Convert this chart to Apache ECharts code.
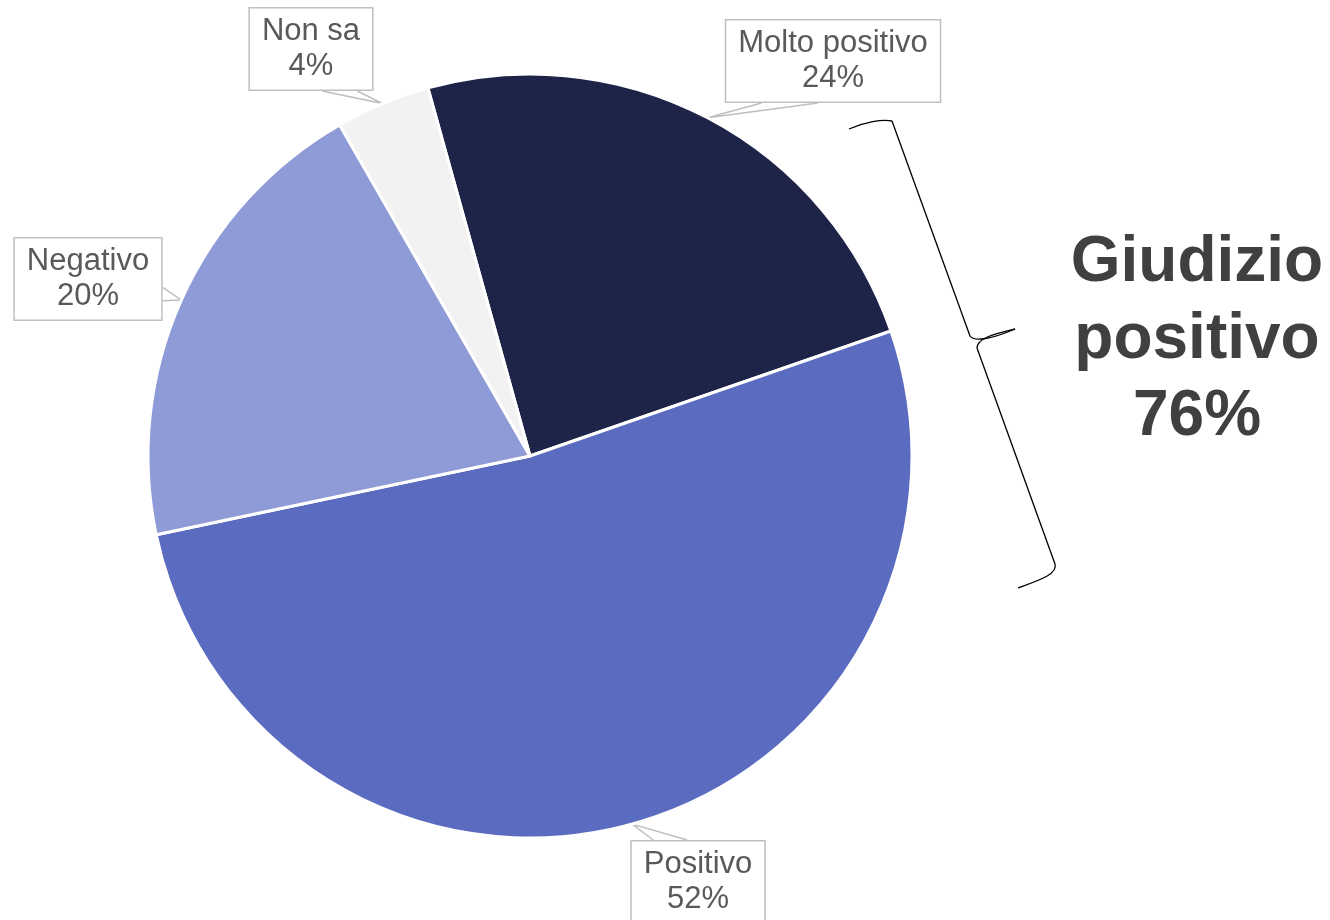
<!DOCTYPE html>
<html>
<head>
<meta charset="utf-8">
<script src="https://cdn.jsdelivr.net/npm/echarts@6/dist/echarts.min.js"></script>
<style>
html,body{margin:0;padding:0;background:#fff;}
#chart{width:1330px;height:920px;}
</style>
</head>
<body>
<div id="chart"></div>
<script>
// Data
const categories = ['Molto positivo', 'Positivo', 'Negativo', 'Non sa'];
const values = [24, 52, 20, 4];
const summaryLines = ['Giudizio', 'positivo', '76%'];

// Styles / layout
const colors = ['#1e2348', '#5b6bbf', '#8f9bd6', '#f2f2f2'];
const labelCenters = [[833, 61], [698, 882], [88, 279], [311, 49]];
// side of the callout box the pointer attaches to, and the pointer base (fractions of width/height)
const labelAttach = [['bottom', 0.17, 0.43], ['top', 0.17, 0.42], ['right', 0.6, 0.76], ['bottom', 0.59, 0.87]];

const chart = echarts.init(document.getElementById('chart'), null, {renderer: 'canvas'});

const bracketColor = '#000';
const option = {
  backgroundColor: '#fff',
  animation: false,
  series: [{
    type: 'pie',
    center: [530, 456],
    radius: 382,
    startAngle: 105.5,
    clockwise: true,
    avoidLabelOverlap: false,
    itemStyle: {borderColor: '#fff', borderWidth: 3},
    data: categories.map((c, i) => ({name: c, value: values[i], itemStyle: {color: colors[i]}})),
    label: {
      show: true,
      position: 'outside',
      formatter: '{b}\n{c}%',
      fontFamily: 'Liberation Sans, Arial, sans-serif',
      fontSize: 31,
      lineHeight: 35,
      color: '#595959',
      backgroundColor: '#fff',
      borderColor: '#bfbfbf',
      borderWidth: 1.5,
      padding: [11, 12, 0, 12],
      align: 'center'
    },
    labelLine: {
      show: true,
      length: 8,
      length2: 8,
      lineStyle: {color: '#bfbfbf', width: 1.5}
    },
    labelLayout: function (params) {
      const i = params.dataIndex;
      const c = labelCenters[i];
      const w = params.labelRect.width, h = params.labelRect.height;
      const left = c[0] - w / 2, top = c[1] - h / 2;
      const a = labelAttach[i];
      const pt = function (f) {
        if (a[0] === 'bottom') return [left + w * f, top + h];
        if (a[0] === 'top') return [left + w * f, top];
        if (a[0] === 'right') return [left + w, top + h * f];
        return [left, top + h * f];
      };
      const tip = params.labelLinePoints ? params.labelLinePoints[0] : pt(a[1]);
      return {x: c[0], y: c[1], align: 'center', verticalAlign: 'middle', labelLinePoints: [pt(a[1]), tip, pt(a[2])]};
    },
    emphasis: {disabled: true}
  }],
  graphic: [
    {type: 'bezierCurve', shape: {x1: 849, y1: 129, cpx1: 865, cpy1: 122, cpx2: 882, cpy2: 119, x2: 892, y2: 121}, style: {stroke: bracketColor, lineWidth: 1.3, fill: null}},
    {type: 'line', shape: {x1: 892, y1: 121, x2: 970, y2: 336}, style: {stroke: bracketColor, lineWidth: 1.3}},
    {type: 'bezierCurve', shape: {x1: 970, y1: 336, cpx1: 974, cpy1: 342, cpx2: 992, cpy2: 339, x2: 1015, y2: 329}, style: {stroke: bracketColor, lineWidth: 1.3, fill: null}},
    {type: 'bezierCurve', shape: {x1: 1015, y1: 329, cpx1: 995, cpy1: 334, cpx2: 977, cpy2: 338, x2: 977, y2: 348}, style: {stroke: bracketColor, lineWidth: 1.3, fill: null}},
    {type: 'line', shape: {x1: 977, y1: 348, x2: 1055, y2: 564}, style: {stroke: bracketColor, lineWidth: 1.3}},
    {type: 'bezierCurve', shape: {x1: 1055, y1: 564, cpx1: 1058, cpy1: 574, cpx2: 1040, cpy2: 580, x2: 1018, y2: 588}, style: {stroke: bracketColor, lineWidth: 1.3, fill: null}},
    {
      type: 'text',
      x: 1197,
      y: 340,
      style: {
        text: summaryLines.join('\n'),
        font: 'bold 64px "Liberation Sans", Arial, sans-serif',
        fill: '#404040',
        textAlign: 'center',
        textVerticalAlign: 'middle',
        lineHeight: 77
      }
    }
  ]
};
chart.setOption(option);
</script>
</body>
</html>
